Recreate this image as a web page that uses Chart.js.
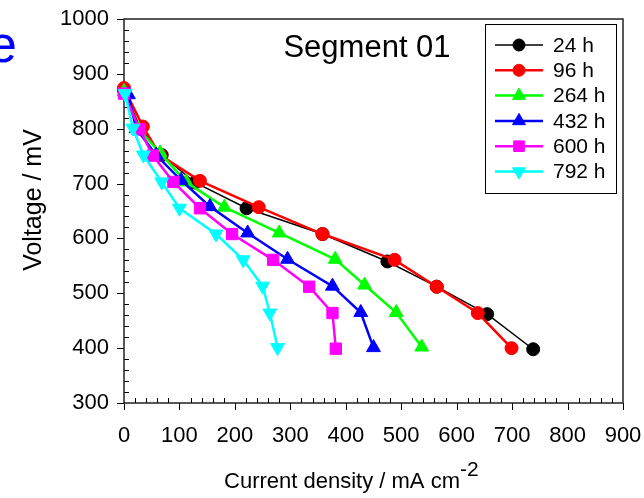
<!DOCTYPE html>
<html>
<head>
<meta charset="utf-8">
<script src="https://cdn.jsdelivr.net/npm/chart.js@4.4.1/dist/chart.umd.min.js"></script>
<style>
  html, body { margin: 0; padding: 0; background: #fff; }
  #chart { display: block; }
</style>
</head>
<body>
<canvas id="chart" width="644" height="498"></canvas>
<script>
// values (current density in mA cm-2, voltage in mV)
const seriesLabels = ['24 h', '96 h', '264 h', '432 h', '600 h', '792 h'];

const current24 = [0, 30, 68, 128, 221, 358, 475, 564, 655, 738];
const voltage24 = [870, 800, 752, 702, 655, 608, 558, 512, 462, 398];

const current96 = [0, 34, 65, 137, 243, 358, 488, 564, 638, 699];
const voltage96 = [874, 804, 752, 705, 657, 608, 561, 512, 464, 400];

const current264 = [0, 26, 65, 112, 181, 280, 381, 434, 491, 537];
const voltage264 = [868, 800, 756, 703, 657, 610, 562, 515, 465, 402];

const current432 = [8, 22, 58, 103, 155, 223, 295, 376, 427, 450];
const voltage432 = [862, 800, 752, 706, 658, 610, 562, 513, 465, 401];

const current600 = [0, 28, 52, 89, 137, 195, 269, 334, 376, 382];
const voltage600 = [864, 799, 751, 703, 655, 608, 561, 512, 464, 399];

const current792 = [2, 16, 35, 68, 100, 166, 215, 250, 263, 277];
const voltage792 = [864, 801, 752, 703, 655, 608, 561, 513, 464, 401];

const xMin = 0, xMax = 900, xStep = 100, xMinor = 20;
const yMin = 300, yMax = 1000, yStep = 100, yMinor = 20;

const FONT = 'Arial, "Liberation Sans", sans-serif';

function pairs(xs, ys) {
  return xs.map((v, i) => ({ x: v, y: ys[i] }));
}

const styles = [
  { color: '#000000', point: 'circle', radius: 6.5, rotation: 0, width: 1.5 },
  { color: '#ff0000', point: 'circle', radius: 6.5, rotation: 0, width: 2.5 },
  { color: '#00ff00', point: 'triangle', radius: 8, rotation: 0, width: 2.5 },
  { color: '#0000ff', point: 'triangle', radius: 8, rotation: 0, width: 2.5 },
  { color: '#ff00ff', point: 'rect', radius: 8, rotation: 0, width: 2.5 },
  { color: '#00ffff', point: 'triangle', radius: 8, rotation: 180, width: 2.5 }
];

const seriesData = [
  pairs(current24, voltage24),
  pairs(current96, voltage96),
  pairs(current264, voltage264),
  pairs(current432, voltage432),
  pairs(current600, voltage600),
  pairs(current792, voltage792)
];

const datasets = seriesData.map((d, i) => ({
  label: seriesLabels[i],
  data: d,
  borderColor: styles[i].color,
  backgroundColor: styles[i].color,
  pointBackgroundColor: styles[i].color,
  pointBorderColor: styles[i].color,
  borderWidth: styles[i].width,
  pointStyle: styles[i].point,
  pointRadius: styles[i].radius,
  pointRotation: styles[i].rotation,
  pointBorderWidth: 1,
  tension: 0,
  clip: false,
  order: 6 - i
}));

// frame box plus the major (outside) and minor (inside) ticks
const frameTicks = {
  id: 'frameTicks',
  beforeDatasetsDraw(chart) {
    const { ctx, chartArea: a, scales: { x, y } } = chart;
    ctx.save();
    ctx.strokeStyle = '#000';
    ctx.lineWidth = 1;
    for (let v = xMin; v <= xMax; v += xMinor) {
      const px = Math.round(x.getPixelForValue(v)) + 0.5;
      ctx.beginPath();
      if (v % xStep === 0) {
        ctx.moveTo(px, a.bottom);
        ctx.lineTo(px, a.bottom + 7);
      } else {
        ctx.moveTo(px, a.bottom);
        ctx.lineTo(px, a.bottom - 5);
      }
      ctx.stroke();
    }
    for (let v = yMin; v <= yMax; v += yMinor) {
      const py = Math.round(y.getPixelForValue(v)) + 0.5;
      ctx.beginPath();
      if (v % yStep === 0) {
        ctx.moveTo(a.left, py);
        ctx.lineTo(a.left - 7, py);
      } else {
        ctx.moveTo(a.left, py);
        ctx.lineTo(a.left + 5, py);
      }
      ctx.stroke();
    }
    ctx.strokeStyle = '#222';
    ctx.lineWidth = 1.5;
    ctx.strokeRect(a.left, a.top, a.right - a.left, a.bottom - a.top);
    ctx.restore();
  }
};

// titles, the cut-off slide letter and the boxed legend
const texts = {
  id: 'texts',
  afterDraw(chart) {
    const { ctx } = chart;
    ctx.save();
    ctx.fillStyle = '#000';
    ctx.textBaseline = 'alphabetic';

    ctx.font = '31px ' + FONT;
    ctx.textAlign = 'center';
    ctx.fillText('Segment 01', 367, 57);

    ctx.save();
    ctx.translate(41, 200);
    ctx.rotate(-Math.PI / 2);
    ctx.font = '25px ' + FONT;
    ctx.fillText('Voltage / mV', 0, 0);
    ctx.restore();

    ctx.font = '22px ' + FONT;
    ctx.textAlign = 'left';
    const main = 'Current density / mA cm';
    const w = ctx.measureText(main).width;
    const x0 = 342 - w / 2;
    ctx.fillText(main, x0, 488);
    ctx.font = '21px ' + FONT;
    ctx.fillText('-2', x0 + w, 476);

    ctx.fillStyle = '#0000ff';
    ctx.font = '52px ' + FONT;
    ctx.fillText('e', -12, 62);

    // legend
    ctx.strokeStyle = '#000';
    ctx.lineWidth = 1;
    ctx.strokeRect(485.5, 24.5, 131, 169);
    ctx.font = '21px ' + FONT;
    ctx.textBaseline = 'middle';
    seriesLabels.forEach((lab, i) => {
      const s = styles[i];
      const yy = 45 + i * 25.3;
      ctx.strokeStyle = s.color;
      ctx.fillStyle = s.color;
      ctx.lineWidth = s.width;
      ctx.beginPath();
      ctx.moveTo(495, yy);
      ctx.lineTo(543, yy);
      ctx.stroke();
      ctx.lineWidth = 1;
      Chart.helpers.drawPoint(ctx, {
        pointStyle: s.point, radius: s.radius - 0.5, rotation: s.rotation, borderWidth: 1
      }, 519, yy);
      ctx.fillStyle = '#000';
      ctx.fillText(lab, 553, yy + 1);
    });
    ctx.restore();
  }
};

new Chart(document.getElementById('chart'), {
  type: 'line',
  data: { datasets },
  options: {
    responsive: false,
    animation: false,
    devicePixelRatio: 1,
    layout: { padding: { top: 19, right: 21, left: 0, bottom: 0 } },
    plugins: { legend: { display: false }, tooltip: { enabled: false } },
    scales: {
      x: {
        type: 'linear',
        min: xMin,
        max: xMax,
        afterFit(scale) {
          scale.height = 95;
          scale.paddingLeft = 0;
          scale.paddingRight = 0;
        },
        grid: { display: false, drawTicks: false },
        border: { display: false },
        ticks: {
          stepSize: xStep, padding: 20, color: '#000',
          font: { family: FONT, size: 22 },
          callback: (v) => String(v)
        }
      },
      y: {
        type: 'linear',
        min: yMin,
        max: yMax,
        afterFit(scale) {
          scale.width = 124;
          scale.paddingTop = 0;
          scale.paddingBottom = 0;
        },
        grid: { display: false, drawTicks: false },
        border: { display: false },
        ticks: {
          stepSize: yStep, padding: 15, color: '#000',
          font: { family: FONT, size: 22 },
          callback: (v) => String(v)
        }
      }
    }
  },
  plugins: [frameTicks, texts]
});
</script>
</body>
</html>
